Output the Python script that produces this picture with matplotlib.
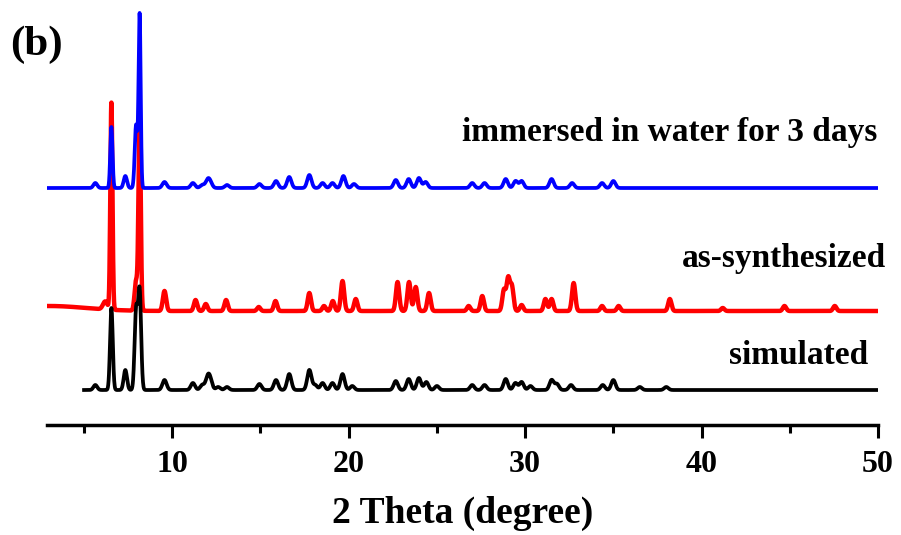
"""PXRD patterns: simulated, as-synthesized and water-immersed sample."""

import numpy as np
import matplotlib
matplotlib.use('Agg')
import matplotlib.pyplot as plt
from matplotlib.ticker import MultipleLocator

plt.rcParams['font.family'] = 'Liberation Serif'
plt.rcParams['font.weight'] = 'bold'

# peak lists: 2theta (deg), height (arbitrary units), fwhm (deg)
sim_pos = [5.64, 6.55, 7.34, 7.95, 8.15, 9.56, 11.17, 11.7, 12.0, 12.15, 12.6, 13.1,
           14.94, 15.88, 16.63, 17.77, 18.1, 18.52, 19.08, 19.65, 20.2, 22.67, 23.4,
           23.98, 24.4, 25.0, 27.0, 27.7, 28.9, 29.45, 29.8, 30.3, 31.5, 31.8,
           32.6, 34.4, 35.0, 36.5, 38.0]
sim_int = [5, 82, 20, 78, 98, 10, 7, 5, 11, 9, 3, 3,
           6, 10, 16, 20, 5, 7, 7, 16, 4, 9, 11,
           12, 8, 4, 5, 5, 11, 7, 8, 4, 10, 6,
           5, 5, 10, 3, 3]
sim_fwhm = [0.25, 0.18, 0.22, 0.2, 0.2] + [0.28] * (len(sim_pos) - 5)

syn_pos = [3.0, 6.2, 6.55, 7.95, 8.15, 9.56, 11.32, 11.9, 13.05, 14.9, 15.85, 17.77,
           18.6, 19.1, 19.65, 20.4, 22.77, 23.42, 23.8, 24.55, 26.8, 27.57, 28.8,
           29.04, 29.25, 29.8, 31.15, 31.5, 32.75, 34.36, 35.3, 38.2, 41.2, 44.7, 47.55]
syn_int = [5, 8, 207, 30, 190, 20, 11, 7, 11, 4, 10, 18,
           5, 10, 30, 12, 29, 29, 24, 18, 5, 15, 21,
           32, 24, 6, 12, 12, 28, 5, 5, 12, 3, 5, 5]
syn_fwhm = [5.0, 0.3, 0.14, 0.2, 0.15] + [0.22] * (len(syn_pos) - 5)

imm_pos = [5.64, 6.55, 7.34, 7.95, 8.15, 9.56, 11.17, 11.7, 12.0, 12.15, 13.1,
           14.94, 15.88, 16.63, 17.77, 18.52, 19.08, 19.7, 20.3, 22.67, 23.4,
           23.98, 24.36, 27.0, 27.7, 28.9, 29.46, 29.8, 31.5, 32.66, 34.36, 35.0]
imm_int = [5, 61, 12, 63, 173, 6, 5, 3, 7, 5, 3,
           4, 7, 11, 13, 5, 5, 12, 4, 8, 9,
           10, 6, 5, 5, 9, 7, 7, 9, 5, 5, 7]
imm_fwhm = [0.25, 0.15, 0.22, 0.18, 0.14] + [0.28] * (len(imm_pos) - 5)

# baseline offset of each trace in the stack
offsets = {'simulated': 35, 'as-synthesized': 114, 'immersed': 237}


def pattern(two_theta, pos, hgt, fwhm):
    y = np.zeros_like(two_theta)
    for p, h, w in zip(pos, hgt, fwhm):
        s = w / 2.355
        y += h * np.exp(-0.5 * ((two_theta - p) / s) ** 2)
    return y


x_sim = np.arange(5.0, 50.0, 0.01)
x_exp = np.arange(2.9, 50.0, 0.01)

fig = plt.figure(figsize=(9.01, 5.35), dpi=100)
ax = fig.add_axes([47 / 901, 1 - 425 / 535, (878 - 47) / 901, 415 / 535])

ax.plot(x_exp, pattern(x_exp, syn_pos, syn_int, syn_fwhm) + offsets['as-synthesized'],
        color='#ff0000', lw=3.2)
ax.plot(x_sim, pattern(x_sim, sim_pos, sim_int, sim_fwhm) + offsets['simulated'],
        color='black', lw=2.7)
ax.plot(x_exp, pattern(x_exp, imm_pos, imm_int, imm_fwhm) + offsets['immersed'],
        color='#0000ff', lw=2.7)

ax.set_xlim(2.9, 50)
ax.set_ylim(0, 415)
for side in ['top', 'right', 'left']:
    ax.spines[side].set_visible(False)
ax.spines['bottom'].set_linewidth(2.5)
ax.set_yticks([])
ax.xaxis.set_major_locator(MultipleLocator(10))
ax.xaxis.set_minor_locator(MultipleLocator(5))
ax.tick_params(axis='x', which='major', length=9, width=2.2, pad=9, labelsize=23)
ax.tick_params(axis='x', which='minor', length=5.5, width=2.2)
ax.set_xlabel('2 Theta (degree)', fontsize=27, fontweight='bold', labelpad=12)

fig.text(877 / 901, 1 - 133 / 535, 'immersed in water for 3 days',
         ha='right', va='center', fontsize=24)
fig.text(886 / 901, 1 - 258 / 535, 'as-synthesized', ha='right', va='center', fontsize=24)
fig.text(868 / 901, 1 - 355 / 535, 'simulated', ha='right', va='center', fontsize=24)
fig.text(10 / 901, 1 - 45 / 535, '(b)', ha='left', va='center', fontsize=31)

fig.savefig('out.png', dpi=100)
